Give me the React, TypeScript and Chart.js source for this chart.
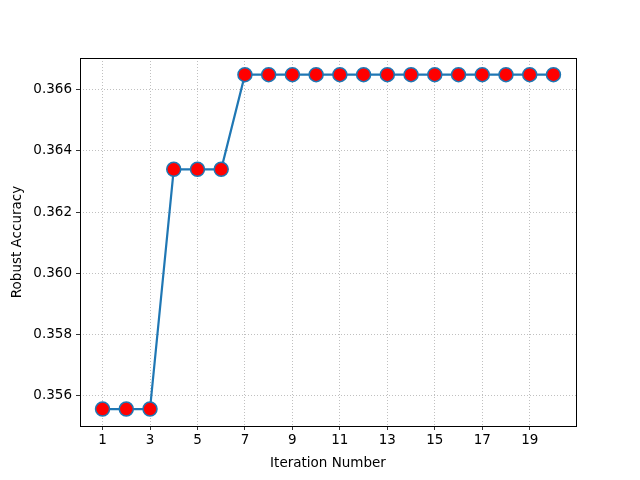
import React, { useEffect, useRef } from "react";
import { Chart, registerables } from "chart.js";

Chart.register(...registerables);

const iterations = [1, 2, 3, 4, 5, 6, 7, 8, 9, 10, 11, 12, 13, 14, 15, 16, 17, 18, 19, 20];
const robustAccuracy = [
  0.35555, 0.35555, 0.35555, 0.36340, 0.36340, 0.36340, 0.36650, 0.36650, 0.36650, 0.36650,
  0.36650, 0.36650, 0.36650, 0.36650, 0.36650, 0.36650, 0.36650, 0.36650, 0.36650, 0.36650,
];
const xTicks = [1, 3, 5, 7, 9, 11, 13, 15, 17, 19];
const yTicks = [0.356, 0.358, 0.36, 0.362, 0.364, 0.366];

const FONT = "'DejaVu Sans', sans-serif";

const framePlugin = {
  id: "frame",
  afterDraw(chart: any) {
    const { ctx, chartArea } = chart;
    ctx.save();
    ctx.strokeStyle = "#000";
    ctx.lineWidth = 1;
    ctx.strokeRect(
      Math.round(chartArea.left) + 0.5,
      Math.round(chartArea.top) + 0.5,
      Math.round(chartArea.right - chartArea.left),
      Math.round(chartArea.bottom - chartArea.top)
    );
    ctx.restore();
  },
};

export default function App() {
  const ref = useRef<HTMLCanvasElement | null>(null);
  useEffect(() => {
    if (!ref.current) return;
    const chart = new Chart(ref.current, {
      type: "line",
      data: {
        datasets: [
          {
            data: iterations.map((x, i) => ({ x, y: robustAccuracy[i] })),
            borderColor: "#1f77b4",
            borderWidth: 2.2,
            pointRadius: 7,
            pointBackgroundColor: "#ff0000",
            pointBorderColor: "#1f77b4",
            pointBorderWidth: 1.5,
            tension: 0,
          },
        ],
      },
      options: {
        animation: false,
        responsive: false,
        layout: { padding: { top: 58, right: 64, left: 0, bottom: 0 } },
        plugins: { legend: { display: false }, tooltip: { enabled: false } },
        scales: {
          x: {
            type: "linear",
            min: 0.05,
            max: 20.95,
            afterFit: (s: any) => {
              s.height = 54;
            },
            afterBuildTicks: (s: any) => {
              s.ticks = xTicks.map((v) => ({ value: v }));
            },
            ticks: {
              color: "#000",
              font: { family: FONT, size: 13.5 },
              padding: 2,
              maxRotation: 0,
              autoSkip: false,
            },
            grid: {
              color: "#b0b0b0",
              lineWidth: 0.8,
              tickLength: 4,
              tickColor: "#000",
              tickBorderDash: [],
            },
            border: { display: false, dash: [1, 2] },
            title: {
              display: true,
              text: "Iteration Number",
              color: "#000",
              font: { family: FONT, size: 13.5 },
              padding: { top: 0, bottom: 8 },
            },
          },
          y: {
            type: "linear",
            min: 0.354995,
            max: 0.367045,
            afterFit: (s: any) => {
              s.width = 80;
            },
            afterBuildTicks: (s: any) => {
              s.ticks = yTicks.map((v) => ({ value: v }));
            },
            ticks: {
              color: "#000",
              font: { family: FONT, size: 13.5 },
              padding: 4,
              callback: (v: any) => Number(v).toFixed(3),
            },
            grid: {
              color: "#b0b0b0",
              lineWidth: 0.8,
              tickLength: 4,
              tickColor: "#000",
              tickBorderDash: [],
            },
            border: { display: false, dash: [1, 2] },
            title: {
              display: true,
              text: "Robust Accuracy",
              color: "#000",
              font: { family: FONT, size: 13.5 },
              padding: { top: 9, bottom: 0 },
            },
          },
        },
      },
      plugins: [framePlugin],
    });
    return () => chart.destroy();
  }, []);
  return (
    <div style={{ position: "fixed", left: 0, top: 0, width: 640, height: 480, background: "#fff" }}>
      <canvas ref={ref} width={640} height={480} />
    </div>
  );
}
